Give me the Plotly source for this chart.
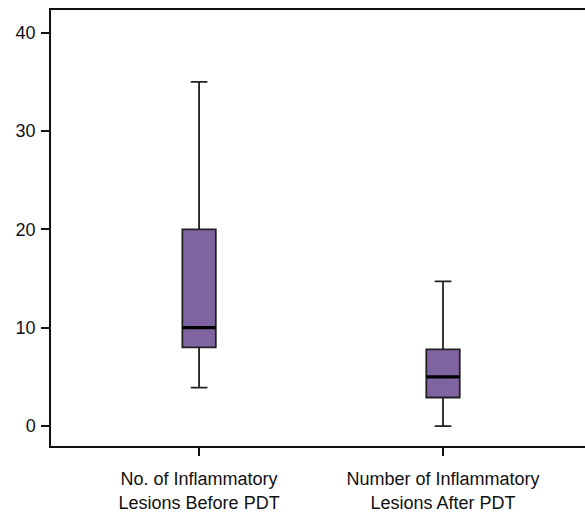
import plotly.graph_objects as go

categories = ["No. of Inflammatory<br>Lesions Before PDT", "Number of Inflammatory<br>Lesions After PDT"]
positions = [0, 1]
lower_whisker = [3.9, 0.0]
q1_values = [8.0, 2.9]
median_values = [10.0, 5.0]
q3_values = [20.0, 7.8]
upper_whisker = [35.0, 14.7]
y_tick_values = [0, 10, 20, 30, 40]
y_tick_labels = ["0", "10", "20", "30", "40"]

BOX_W = 0.137
FILL = "#8064A2"
EDGE = "#222222"
TEXT = "#111111"

fig = go.Figure()
fig.add_trace(go.Box(
    x=positions,
    q1=q1_values, median=median_values, q3=q3_values,
    lowerfence=lower_whisker, upperfence=upper_whisker,
    width=BOX_W, whiskerwidth=0.5,
    fillcolor=FILL,
    line=dict(color=EDGE, width=1.8),
    boxpoints=False, showlegend=False, hoverinfo="skip",
))

mx, my = [], []
for p, m in zip(positions, median_values):
    mx += [p - BOX_W / 2, p + BOX_W / 2, None]
    my += [m, m, None]
fig.add_trace(go.Scatter(x=mx, y=my, mode="lines",
                         line=dict(color="#000000", width=3.2),
                         showlegend=False, hoverinfo="skip"))

fig.update_layout(
    width=585, height=512,
    margin=dict(l=51, r=0, t=10, b=66),
    paper_bgcolor="white", plot_bgcolor="white",
    font=dict(family="Liberation Sans, Arial, sans-serif", color=TEXT, size=16),
    xaxis=dict(
        range=[-0.607, 1.582], tickmode="array", tickvals=positions, ticktext=categories,
        showgrid=False, zeroline=False, showline=True, mirror=True,
        linecolor="#111111", linewidth=1.5,
        ticks="outside", ticklen=8, tickwidth=1.5, tickcolor="#111111",
        tickfont=dict(size=18, color=TEXT), ticklabelstandoff=8, fixedrange=True,
    ),
    yaxis=dict(
        range=[-2.03, 42.3], tickmode="array", tickvals=y_tick_values, ticktext=y_tick_labels,
        showgrid=False, zeroline=False, showline=True, mirror=False,
        linecolor="#111111", linewidth=1.5,
        ticks="outside", ticklen=8, tickwidth=1.5, tickcolor="#111111",
        tickfont=dict(size=18, color=TEXT), ticklabelstandoff=2, fixedrange=True,
    ),
)

fig.write_html("out.html", config={"displayModeBar": False},
               post_script="document.body.style.margin='0';document.body.style.overflow='hidden';")
